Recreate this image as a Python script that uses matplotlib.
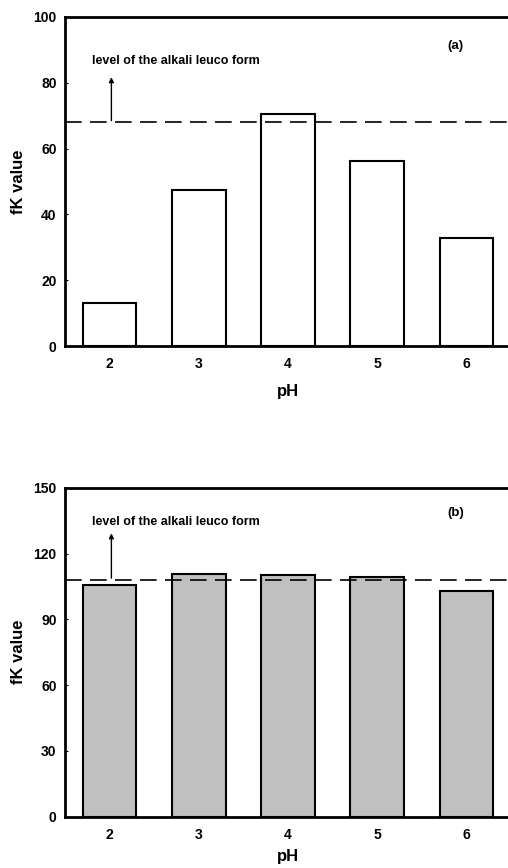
import matplotlib
matplotlib.use("Agg")
import matplotlib.pyplot as plt

plt.rcParams['font.family'] = ['Liberation Sans', 'DejaVu Sans']
plt.rcParams['font.weight'] = 'bold'

ph = [2, 3, 4, 5, 6]
fk_a = [13.2, 47.3, 70.6, 56.1, 32.8]
fk_b = [105.6, 110.5, 110.4, 109.4, 103.1]
level_a = 68
level_b = 108
yticks_a = [0, 20, 40, 60, 80, 100]
yticks_b = [0, 30, 60, 90, 120, 150]

fig = plt.figure(figsize=(5.08, 8.68), dpi=100)
W, H = 508, 868

def make_ax(top_px, bottom_px):
    left = 65 / W
    width = (511 - 65) / W
    return fig.add_axes([left, 1 - bottom_px / H, width, (bottom_px - top_px) / H])

ax1 = make_ax(17, 346)
ax2 = make_ax(487.7, 816.7)

def style(ax, vals, level, yticks, color, label, arrow_top, text_y, lab_y, xlabpad):
    ax.bar(ph, vals, width=0.6, color=color, edgecolor='black', linewidth=1.5, zorder=2)
    ax.axhline(level, color='black', linestyle=(0, (10, 5)), linewidth=1.2, zorder=3)
    ax.set_xlim(1.5, 6.5)
    ax.set_ylim(yticks[0], yticks[-1])
    ax.set_xticks(ph)
    ax.set_yticks(yticks)
    ax.tick_params(axis='x', direction='in', length=2, width=0.8, labelsize=10, pad=8)
    ax.tick_params(axis='y', direction='in', length=2.5, width=0.8, labelsize=10, pad=6)
    for lab in ax.get_xticklabels() + ax.get_yticklabels():
        lab.set_fontweight('bold')
    for s in ['left', 'bottom', 'top']:
        ax.spines[s].set_linewidth(2)
    ax.spines['right'].set_visible(False)
    ax.set_xlabel('pH', fontsize=12, fontweight='bold', labelpad=xlabpad)
    ax.set_ylabel('fK value', fontsize=12, fontweight='bold', labelpad=5)
    base = level + (yticks[-1] - yticks[0]) * 0.005
    ax.annotate('', xy=(2.02, arrow_top), xytext=(2.02, base),
                arrowprops=dict(arrowstyle='-|>', color='black', lw=1.0,
                                mutation_scale=7, shrinkA=0, shrinkB=0))
    ax.text(1.8, text_y, 'level of the alkali leuco form', fontsize=9,
            fontweight='bold', va='center', ha='left')
    ax.text(5.88, lab_y, label, fontsize=9.5, fontweight='bold', va='center', ha='center')

style(ax1, fk_a, level_a, yticks_a, 'white', '(a)', 81.7, 86.7, 91.2, 9)
style(ax2, fk_b, level_b, yticks_b, '#c0c0c0', '(b)', 129.2, 134.5, 138.3, 5)

fig.savefig('out.png', dpi=100)
